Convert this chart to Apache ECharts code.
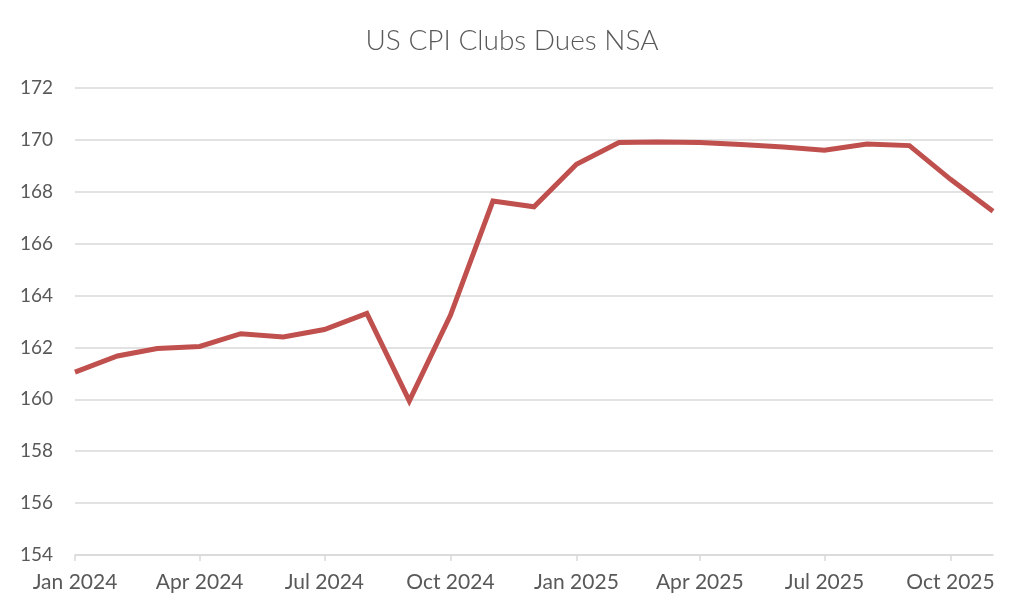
<!DOCTYPE html>
<html>
<head>
<meta charset="utf-8">
<script src="https://cdn.jsdelivr.net/npm/echarts@6/dist/echarts.min.js"></script>
<style>html,body{margin:0;padding:0;background:#fff;}#c{width:1024px;height:614px;}</style>
</head>
<body>
<div id="c"></div>
<script>
const months = ['2024-01','2024-02','2024-03','2024-04','2024-05','2024-06','2024-07','2024-08','2024-09','2024-10','2024-11','2024-12',
  '2025-01','2025-02','2025-03','2025-04','2025-05','2025-06','2025-07','2025-08','2025-09','2025-10','2025-11'];
const values = [161.05,161.67,161.96,162.04,162.53,162.40,162.69,163.31,159.94,163.24,167.64,167.42,
  169.06,169.90,169.92,169.90,169.82,169.73,169.60,169.84,169.78,168.48,167.25];
const tickMonths = ['2024-01','2024-04','2024-07','2024-10','2025-01','2025-04','2025-07','2025-10'];
const yTicks = [154,156,158,160,162,164,166,168,170,172];
const monthNames = ['Jan','Feb','Mar','Apr','May','Jun','Jul','Aug','Sep','Oct','Nov','Dec'];

function ts(s){ const p = s.split('-'); return Date.UTC(+p[0], +p[1]-1, 1); }
const data = months.map((m,i)=>[ts(m), values[i]]);
const tickVals = tickMonths.map(ts);

const chart = echarts.init(document.getElementById('c'));
chart.setOption({
  animation:false,
  backgroundColor:'#fff',
  title:{text:'US CPI Clubs Dues NSA', left:'center', top:22,
    textStyle:{fontFamily:'Lato', fontWeight:300, fontSize:28, color:'#595959'}},
  grid:{left:75, right:31, top:88, bottom:59, containLabel:false},
  xAxis:{type:'value', min:ts(months[0]), max:ts(months[months.length-1]),
    splitLine:{show:false},
    axisLine:{show:true, lineStyle:{color:'#d9d9d9', width:1.5}},
    axisTick:{show:true, customValues:tickVals, length:6, lineStyle:{color:'#d9d9d9', width:1.5}},
    axisLabel:{customValues:tickVals, margin:17, fontFamily:'Lato', fontWeight:'normal', fontSize:21, color:'#595959',
      formatter:function(v){ const d=new Date(v); return monthNames[d.getUTCMonth()]+' '+d.getUTCFullYear(); }}
  },
  yAxis:{type:'value', min:yTicks[0], max:yTicks[yTicks.length-1], interval:2,
    axisLine:{show:false}, axisTick:{show:false},
    splitLine:{lineStyle:{color:'#d9d9d9', width:1.5}},
    axisLabel:{margin:22, fontFamily:'Lato', fontWeight:'normal', fontSize:19, color:'#595959'}
  },
  series:[{type:'line', data:data, showSymbol:false, symbol:'none',
    lineStyle:{color:'#c0504d', width:5, join:'miter'}, itemStyle:{color:'#c0504d'}}]
});
</script>
</body>
</html>
